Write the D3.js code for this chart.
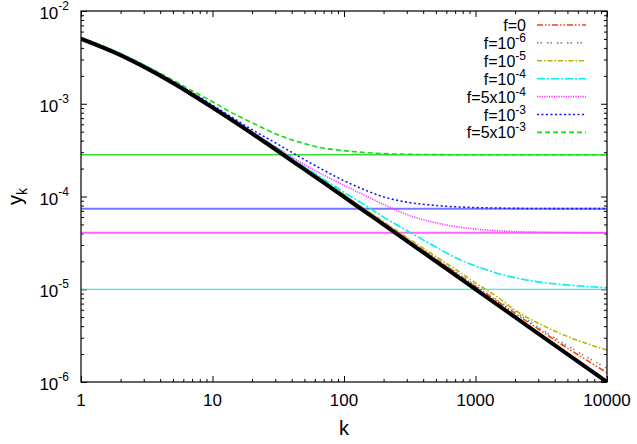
<!DOCTYPE html>
<html>
<head>
<meta charset="utf-8">
<script src="https://cdn.jsdelivr.net/npm/d3@7"></script>
<style>
  body { margin: 0; background: #fff; }
  text { font-family: "Liberation Sans", Arial, Helvetica, sans-serif; fill: #000; }
</style>
</head>
<body>
<svg id="chart" width="637" height="444"></svg>
<script>
// ---- data ----
const kValues = [1, 2, 3, 5, 7, 10, 15, 20, 30, 50, 70, 100, 150, 200, 300, 500, 700, 1000, 1500, 2000, 3000, 5000, 7000, 10000];

// reference curve (thick black)
const yRef  = [5.0e-3, 3.33e-3, 2.5e-3, 1.67e-3, 1.25e-3, 9.09e-4, 6.25e-4, 4.76e-4, 3.23e-4, 1.96e-4, 1.41e-4, 9.9e-5, 6.62e-5, 4.98e-5, 3.32e-5, 2.0e-5, 1.43e-5, 1.0e-5, 6.66e-6, 5.0e-6, 3.33e-6, 2.0e-6, 1.43e-6, 1.0e-6];

const yF0   = [5.15e-3, 3.43e-3, 2.58e-3, 1.72e-3, 1.29e-3, 9.36e-4, 6.44e-4, 4.9e-4, 3.33e-4, 2.02e-4, 1.45e-4, 1.03e-4, 6.9e-5, 5.23e-5, 3.49e-5, 2.12e-5, 1.53e-5, 1.08e-5, 7.26e-6, 5.5e-6, 3.73e-6, 2.32e-6, 1.72e-6, 1.26e-6];
const yF1e6 = [5.15e-3, 3.43e-3, 2.58e-3, 1.72e-3, 1.29e-3, 9.37e-4, 6.45e-4, 4.91e-4, 3.34e-4, 2.03e-4, 1.46e-4, 1.035e-4, 6.95e-5, 5.26e-5, 3.52e-5, 2.14e-5, 1.55e-5, 1.1e-5, 7.45e-6, 5.7e-6, 3.9e-6, 2.47e-6, 1.86e-6, 1.41e-6];
const yF1e5 = [5.15e-3, 3.43e-3, 2.58e-3, 1.72e-3, 1.29e-3, 9.38e-4, 6.46e-4, 4.92e-4, 3.36e-4, 2.05e-4, 1.48e-4, 1.05e-4, 7.05e-5, 5.35e-5, 3.63e-5, 2.25e-5, 1.65e-5, 1.17e-5, 8.1e-6, 5.95e-6, 4.3e-6, 3.1e-6, 2.6e-6, 2.21e-6];
const yF1e4 = [5.15e-3, 3.44e-3, 2.59e-3, 1.73e-3, 1.3e-3, 9.45e-4, 6.52e-4, 4.98e-4, 3.42e-4, 2.1e-4, 1.53e-4, 1.11e-4, 7.8e-5, 6.0e-5, 4.3e-5, 2.85e-5, 2.2e-5, 1.78e-5, 1.47e-5, 1.33e-5, 1.2e-5, 1.11e-5, 1.07e-5, 1.04e-5];
const yF5e4 = [5.15e-3, 3.44e-3, 2.6e-3, 1.74e-3, 1.31e-3, 9.6e-4, 6.6e-4, 5.0e-4, 3.45e-4, 2.2e-4, 1.7e-4, 1.32e-4, 1.0e-4, 8.2e-5, 6.4e-5, 5.2e-5, 4.75e-5, 4.45e-5, 4.27e-5, 4.18e-5, 4.12e-5, 4.08e-5, 4.07e-5, 4.07e-5];
const yF1e3 = [5.15e-3, 3.45e-3, 2.61e-3, 1.75e-3, 1.32e-3, 9.65e-4, 6.75e-4, 5.25e-4, 3.8e-4, 2.5e-4, 1.92e-4, 1.48e-4, 1.15e-4, 9.9e-5, 8.7e-5, 8.0e-5, 7.75e-5, 7.6e-5, 7.5e-5, 7.45e-5, 7.42e-5, 7.4e-5, 7.4e-5, 7.4e-5];
const yF5e3 = [5.2e-3, 3.48e-3, 2.63e-3, 1.8e-3, 1.38e-3, 1.05e-3, 7.6e-4, 6.25e-4, 4.75e-4, 3.72e-4, 3.32e-4, 3.12e-4, 2.97e-4, 2.9e-4, 2.85e-4, 2.83e-4, 2.82e-4, 2.82e-4, 2.82e-4, 2.82e-4, 2.82e-4, 2.82e-4, 2.82e-4, 2.82e-4];

// asymptotic levels drawn as horizontal lines
const plateauLevels = [2.82e-4, 7.4e-5, 4.07e-5, 1.0e-5];

// legend labels: [base text, superscript]
const legendLabels = [["f=0", ""], ["f=10", "-6"], ["f=10", "-5"], ["f=10", "-4"], ["f=5x10", "-4"], ["f=10", "-3"], ["f=5x10", "-3"]];

const xTickValues = [1, 10, 100, 1000, 10000];
const xTickLabels = ["1", "10", "100", "1000", "10000"];
const yTickValues = [1e-6, 1e-5, 1e-4, 1e-3, 1e-2];
const yTickExponents = ["-6", "-5", "-4", "-3", "-2"];

// ---- styles ----
const seriesValues = [yF0, yF1e6, yF1e5, yF1e4, yF5e4, yF1e3, yF5e3];
const seriesStyle = [
  { color: "#ee4411", dash: "6,2,1.5,2,1.5,2" },
  { color: "#888888", dash: "1.5,2,1.5,5" },
  { color: "#b5b500", dash: "5,2,1.5,2" },
  { color: "#00eeee", dash: "8,2,2,2" },
  { color: "#ff33ff", dash: "1.2,1.2" },
  { color: "#1111ff", dash: "2,2.5" },
  { color: "#11dd11", dash: "5,3" }
];
const plateauStyle = [
  { color: "#33dd33", width: 1.3 },
  { color: "#7777ff", width: 2 },
  { color: "#ff66ff", width: 2 },
  { color: "#22dddd", width: 1.2 }
];

// ---- layout ----
const plot = { left: 81, right: 607, top: 11, bottom: 382 };

const svg = d3.select("#chart");
const x = d3.scaleLog().domain([1, 10000]).range([plot.left, plot.right]);
const y = d3.scaleLog().domain([1e-6, 1e-2]).range([plot.bottom, plot.top]);

svg.append("defs").append("clipPath").attr("id", "plotClip")
  .append("rect")
  .attr("x", plot.left).attr("y", plot.top)
  .attr("width", plot.right - plot.left).attr("height", plot.bottom - plot.top);

// minor tick positions (2..9 in each decade)
const xMinor = [], yMinor = [];
for (let e = 0; e < 4; e++) for (let m = 2; m <= 9; m++) xMinor.push(m * Math.pow(10, e));
for (let e = -6; e < -2; e++) for (let m = 2; m <= 9; m++) yMinor.push(m * Math.pow(10, e));

function tickAxis(axisFn, scale, values, size, translate) {
  const g = svg.append("g")
    .attr("transform", translate)
    .call(axisFn(scale).tickValues(values).tickSize(size).tickFormat(""));
  g.select(".domain").remove();
  g.selectAll(".tick line").attr("stroke", "#000").attr("stroke-width", 1);
  return g;
}

// inward ticks on all four sides
tickAxis(d3.axisBottom, x, xTickValues, -6, `translate(0,${plot.bottom})`);
tickAxis(d3.axisBottom, x, xMinor, -3, `translate(0,${plot.bottom})`);
tickAxis(d3.axisTop, x, xTickValues, -6, `translate(0,${plot.top})`);
tickAxis(d3.axisTop, x, xMinor, -3, `translate(0,${plot.top})`);
tickAxis(d3.axisLeft, y, yTickValues, -6, `translate(${plot.left},0)`);
tickAxis(d3.axisLeft, y, yMinor, -3, `translate(${plot.left},0)`);
tickAxis(d3.axisRight, y, yTickValues, -6, `translate(${plot.right},0)`);
tickAxis(d3.axisRight, y, yMinor, -3, `translate(${plot.right},0)`);

// tick labels
svg.append("g").selectAll("text").data(xTickValues).join("text")
  .attr("x", d => x(d)).attr("y", 406)
  .attr("text-anchor", "middle").attr("font-size", 17)
  .text((d, i) => xTickLabels[i]);

const yLab = svg.append("g").selectAll("text").data(yTickValues).join("text")
  .attr("x", 69).attr("y", d => y(d) + 8)
  .attr("text-anchor", "end").attr("font-size", 17);
yLab.append("tspan").text("10");
yLab.append("tspan").attr("font-size", 12).attr("dy", -9).text((d, i) => yTickExponents[i]);

// axis titles
svg.append("text").attr("x", (plot.left + plot.right) / 2).attr("y", 435)
  .attr("text-anchor", "middle").attr("font-size", 20).text("k");
const yTitle = svg.append("text")
  .attr("transform", `translate(22,${(plot.top + plot.bottom) / 2}) rotate(-90)`)
  .attr("text-anchor", "middle").attr("font-size", 20);
yTitle.append("tspan").text("y");
yTitle.append("tspan").attr("font-size", 14).attr("dy", 5).text("k");

// plot contents
const content = svg.append("g").attr("clip-path", "url(#plotClip)");

content.selectAll("line.plateau").data(plateauLevels).join("line")
  .attr("class", "plateau")
  .attr("x1", plot.left).attr("x2", plot.right)
  .attr("y1", d => y(d)).attr("y2", d => y(d))
  .attr("stroke", (d, i) => plateauStyle[i].color)
  .attr("stroke-width", (d, i) => plateauStyle[i].width);

const line = d3.line()
  .x(d => x(d[0]))
  .y(d => y(d[1]))
  .curve(d3.curveMonotoneX);

seriesValues.forEach((vals, i) => {
  content.append("path")
    .datum(kValues.map((k, j) => [k, vals[j]]))
    .attr("d", line)
    .attr("fill", "none")
    .attr("stroke", seriesStyle[i].color)
    .attr("stroke-width", 1.6)
    .attr("stroke-dasharray", seriesStyle[i].dash);
});

content.append("path")
  .datum(kValues.map((k, j) => [k, yRef[j]]))
  .attr("d", line)
  .attr("fill", "none")
  .attr("stroke", "#000")
  .attr("stroke-width", 4);

// frame
svg.append("rect")
  .attr("x", plot.left).attr("y", plot.top)
  .attr("width", plot.right - plot.left).attr("height", plot.bottom - plot.top)
  .attr("fill", "none").attr("stroke", "#000").attr("stroke-width", 1.2);

// legend
const legend = svg.append("g");
legendLabels.forEach((lab, i) => {
  const ly = 25 + i * 17.9;
  const t = legend.append("text")
    .attr("x", 526).attr("y", ly + 6)
    .attr("text-anchor", "end").attr("font-size", 16);
  t.append("tspan").text(lab[0]);
  if (lab[1]) t.append("tspan").attr("font-size", 12).attr("dy", -7).text(lab[1]);
  legend.append("line")
    .attr("x1", 537).attr("x2", 586).attr("y1", ly).attr("y2", ly)
    .attr("stroke", seriesStyle[i].color).attr("stroke-width", 1.6)
    .attr("stroke-dasharray", seriesStyle[i].dash);
});
</script>
</body>
</html>
